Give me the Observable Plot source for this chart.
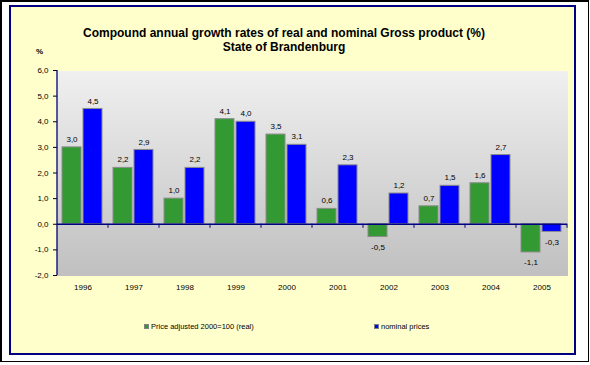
<!DOCTYPE html>
<html><head><meta charset="utf-8">
<script src="https://cdn.jsdelivr.net/npm/d3@7"></script>
<script src="https://cdn.jsdelivr.net/npm/@observablehq/plot@0.6"></script>
<style>
body{margin:0;background:#fff;}
#wrap{position:relative;width:590px;height:365px;font-family:"Liberation Sans",Arial,sans-serif;color:#000;}
#outer{position:absolute;left:0;top:0;width:589px;height:362px;box-sizing:border-box;border:2px solid #000;border-right-width:1.5px;border-bottom-width:1.5px;background:#fff;}
#panel{position:absolute;left:9px;top:5px;width:567px;height:350px;box-sizing:border-box;border:2px solid #000080;background:#ffffcc;}
.t{position:absolute;left:0;width:568px;text-align:center;font-weight:bold;font-size:12px;line-height:12px;white-space:nowrap;}
#pct{position:absolute;left:36px;top:48px;font-size:8px;line-height:8px;font-weight:bold;}
.leg{position:absolute;top:323px;font-size:7.5px;line-height:8px;white-space:nowrap;}
.sw{display:inline-block;width:5px;height:5px;box-sizing:border-box;border:1px solid #808080;margin-right:2px;vertical-align:0px;}
#chart{position:absolute;left:0;top:0;}
</style></head>
<body>
<div id="wrap">
  <div id="outer"></div>
  <div id="panel"></div>
  <div class="t" style="top:27px">Compound annual growth rates of real and nominal Gross product (%)</div>
  <div class="t" style="top:41px">State of Brandenburg</div>
  <div id="pct">%</div>
  <div id="legend"></div>
  <div id="chart"></div>
</div>
<script>
const years = ["1996","1997","1998","1999","2000","2001","2002","2003","2004","2005"];
const real = [3.0, 2.2, 1.0, 4.1, 3.5, 0.6, -0.5, 0.7, 1.6, -1.1];
const nominal = [4.5, 2.9, 2.2, 4.0, 3.1, 2.3, 1.2, 1.5, 2.7, -0.3];
const seriesKeys = ["real", "nominal"];
const seriesNames = ["Price adjusted 2000=100 (real)", "nominal prices"];
const seriesColors = ["#339933", "#0000ff"];
const yTicks = [-2, -1, 0, 1, 2, 3, 4, 5, 6];

const rows = years.flatMap((y, i) => [
  {year: y, series: "real", value: real[i]},
  {year: y, series: "nominal", value: nominal[i]}
]);
const fmt = v => d3.format(".1f")(v).replace(".", ",").replace("\u2212", "-");

const chart = Plot.plot({
  width: 590, height: 365,
  marginLeft: 53, marginRight: 20, marginTop: 70, marginBottom: 90,
  style: {background: "transparent", fontFamily: "Liberation Sans, Arial, sans-serif", fontSize: "8px", color: "black", overflow: "visible"},
  facet: {data: rows, x: "year"},
  fx: {domain: years, padding: 0, label: null, axis: "bottom", tickSize: 0, tickPadding: 9},
  x: {domain: seriesKeys, axis: null, paddingInner: 0.09, paddingOuter: 0.22},
  y: {domain: [-2, 6], ticks: yTicks, tickFormat: fmt, tickSize: 4, tickPadding: 5, label: null},
  color: {domain: seriesKeys, range: seriesColors},
  marks: [
    Plot.frame({fill: "url(#bg)", insetLeft: -0.6, insetRight: -0.6, shapeRendering: "crispEdges"}),
    Plot.barY(rows, {x: "series", y: "value", fill: "series", stroke: "#8c8c8c", strokeWidth: 1}),
    Plot.ruleY([0], {stroke: "#000080", strokeWidth: 1.3}),
    Plot.text(rows, {filter: d => d.value >= 0, x: "series", y: "value", text: d => fmt(d.value), dy: -8}),
    Plot.text(rows, {filter: d => d.value < 0, x: "series", y: "value", text: d => fmt(d.value), dy: 10})
  ]
});

const svg = d3.select(chart);
svg.insert("defs", ":first-child").html('<linearGradient id="bg" x1="0" y1="0" x2="0" y2="1"><stop offset="0" stop-color="#f0f0f0"/><stop offset="1" stop-color="#c0c0c0"/></linearGradient>');
svg.selectAll('[aria-label="y-axis tick"]').attr("stroke", "#000080");
const ys = chart.scale("y"), fxs = chart.scale("fx");
const y0 = ys.apply(0);
const [ya, yb] = [ys.apply(6), ys.apply(-2)];
const left = fxs.apply(years[0]);
const step = fxs.apply(years[1]) - left;
svg.append("line").attr("x1", left).attr("x2", left).attr("y1", ya).attr("y2", yb).attr("stroke", "#000080").attr("stroke-width", 1.3);
years.forEach(y => {
  const xr = fxs.apply(y) + step;
  svg.append("line").attr("x1", xr).attr("x2", xr).attr("y1", y0).attr("y2", y0 + 4).attr("stroke", "#000080").attr("stroke-width", 1);
});
document.getElementById("chart").append(chart);

const legPos = [144, 374];
const leg = document.getElementById("legend");
seriesNames.forEach((n, i) => {
  const d = document.createElement("div");
  d.className = "leg";
  d.style.left = legPos[i] + "px";
  d.innerHTML = `<span class="sw" style="background:${seriesColors[i]}"></span>${n}`;
  leg.append(d);
});
</script>
</body></html>
